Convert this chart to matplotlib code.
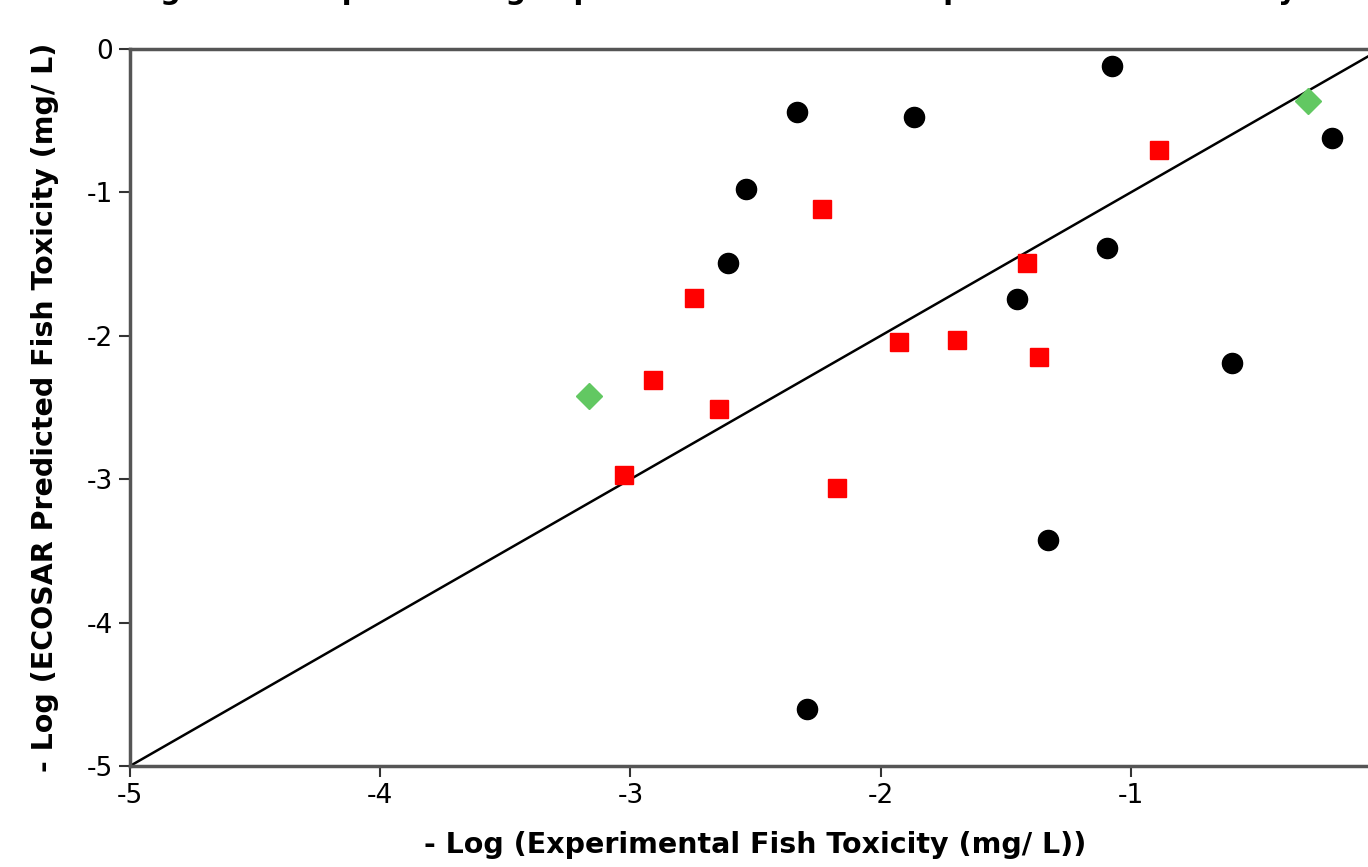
import numpy as np
import matplotlib
matplotlib.use("Agg")
import matplotlib.pyplot as plt

# -log experimental (x) vs -log ECOSAR predicted (y), mg/L
circle_x = [-2.335, -1.865, -2.539, -2.611, -1.075, -0.196, -1.096, -1.454, -0.594, -1.332, -2.294]
circle_y = [-0.441, -0.476, -0.976, -1.494, -0.121, -0.621, -1.390, -1.743, -2.188, -3.424, -4.600]

square_x = [-2.233, -2.746, -2.911, -2.645, -3.024, -2.176, -1.926, -1.696, -0.886, -1.416, -1.366]
square_y = [-1.116, -1.738, -2.308, -2.508, -2.973, -3.059, -2.041, -2.029, -0.704, -1.490, -2.150]

diamond_x = [-3.167, -0.291]
diamond_y = [-2.418, -0.365]

line_x = [-5, 0]
line_y = [-5, 0]

xticks = [-5, -4, -3, -2, -1]
yticks = [0, -1, -2, -3, -4, -5]

W, H = 1368, 867
fig = plt.figure(figsize=(W / 100, H / 100), dpi=100)
# axes runs off the right edge of the picture, as in the cropped original
ax = fig.add_axes([130 / W, 1 - 766 / H, (1381 - 130) / W, (766 - 49) / H])

ax.plot(line_x, line_y, color="black", lw=1.8, zorder=1)
ax.plot(circle_x, circle_y, "o", color="black", ms=14.5, ls="none", zorder=3)
ax.plot(square_x, square_y, "s", color="#ff0000", ms=13, ls="none", zorder=3)
ax.plot(diamond_x, diamond_y, "D", color="#62c862", ms=13, ls="none", zorder=3)

ax.set_xlim(-5, 0)
ax.set_ylim(-5, 0)
ax.set_xticks(xticks)
ax.set_yticks(yticks)
ax.set_xticklabels([str(t) for t in xticks])
ax.set_yticklabels([str(t) for t in yticks])
ax.tick_params(direction="out", length=8, width=1.5, color="#333333",
               labelsize=19, pad=4, top=False, right=False)

for side in ["left", "bottom", "top"]:
    ax.spines[side].set_color("#555555")
    ax.spines[side].set_linewidth(2.5)
ax.spines["right"].set_visible(False)

lab_font = dict(fontsize=20.5, fontweight="bold", family="DejaVu Sans")
ax.set_xlabel("- Log (Experimental Fish Toxicity (mg/ L))", labelpad=16, **lab_font)
ax.set_ylabel("- Log (ECOSAR Predicted Fish Toxicity (mg/ L)", labelpad=20, **lab_font)

# title is cut off at the top of the original picture
fig.text(714 / W, 1 + 1 / H, "Figure 2: Graph showing experimental vs ECOSAR predicted fish toxicity",
         ha="center", va="baseline", **lab_font)

fig.savefig("out.png", dpi=100)
